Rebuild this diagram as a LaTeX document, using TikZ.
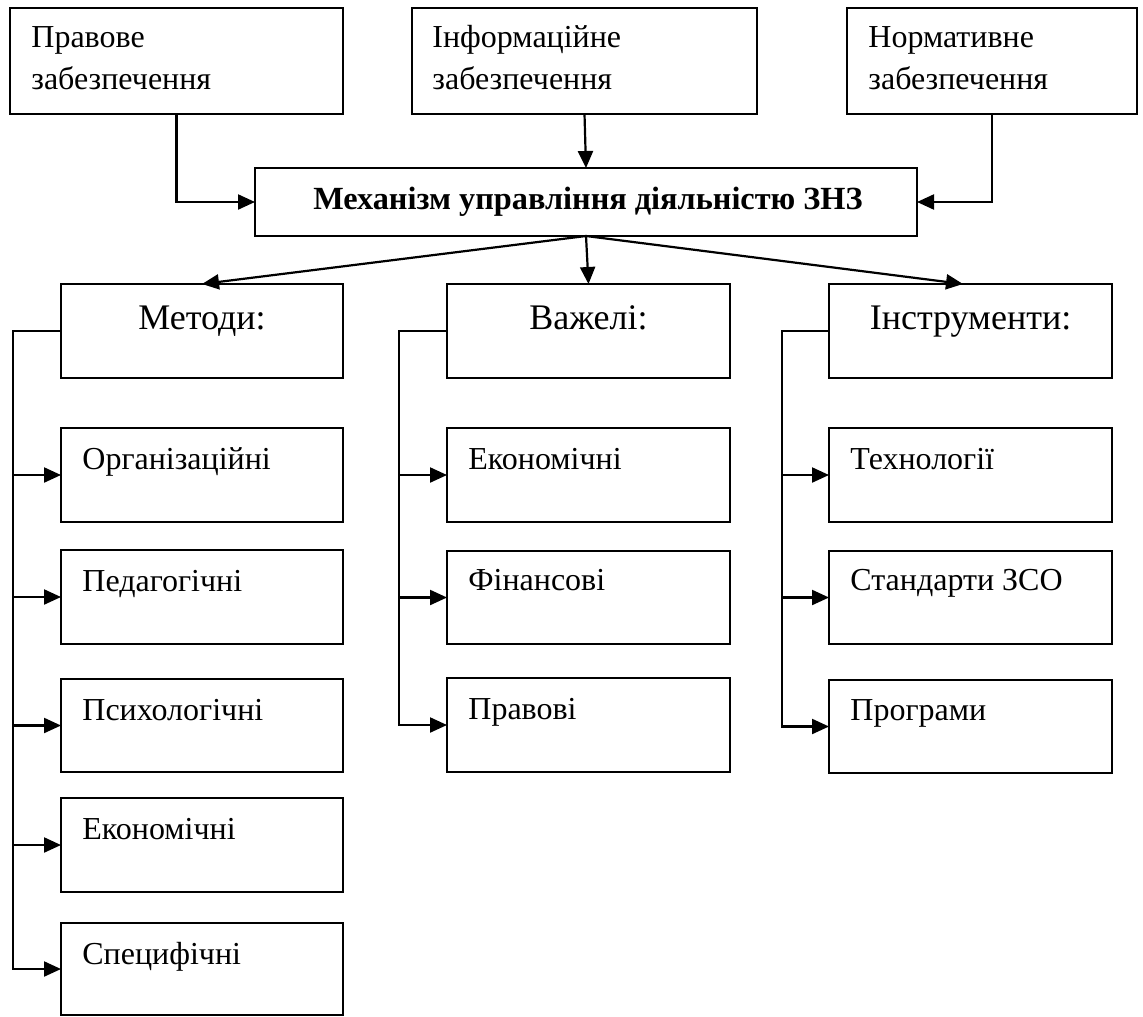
\documentclass[tikz,border=0pt]{standalone}
\usepackage{fontspec}
\setmainfont{Liberation Serif}
\usetikzlibrary{arrows.meta}
\tikzset{
  box/.style={draw, line width=1.05pt, inner sep=0pt, outer sep=0pt, anchor=north west},
  txt/.style={inner sep=0pt, anchor=base west, font=\fontsize{16}{19}\selectfont},
  head/.style={inner sep=0pt, anchor=base, font=\fontsize{18}{21}\selectfont},
  ttl/.style={inner sep=0pt, anchor=base, font=\fontsize{16.15}{19}\selectfont\bfseries},
  arr/.style={line width=1.1pt, -{Triangle[length=8.5pt,width=7.5pt]}},
  ln/.style={line width=1.1pt}
}
\begin{document}
\begin{tikzpicture}[x=0.5pt,y=-0.5pt]
\useasboundingbox (0,0) rectangle (1143,1016);
% top boxes
\node[box, minimum width=166.5pt, minimum height=53pt] (pravove) at (10,8) {};
\node[txt] (pravove1) at (31,48) {Правове};
\node[txt] (pravove2) at (31,90) {забезпечення};
\node[box, minimum width=172.5pt, minimum height=53pt] (inform) at (412,8) {};
\node[txt] (inform1) at (432,48) {Інформаційне};
\node[txt] (inform2) at (432,90) {забезпечення};
\node[box, minimum width=145pt, minimum height=53pt] (normat) at (847,8) {};
\node[txt] (normat1) at (868,48) {Нормативне};
\node[txt] (normat2) at (868,90) {забезпечення};
% central
\node[box, minimum width=331pt, minimum height=34pt] (central) at (255,168) {};
\node[ttl] (centralt) at (588,209) {Механізм управління діяльністю ЗНЗ};
% headers
\node[box, minimum width=141pt, minimum height=47pt] (metody) at (61,284) {};
\node[head] (metodyt) at (202,329) {Методи:};
\node[box, minimum width=141.5pt, minimum height=47pt] (vazheli) at (447,284) {};
\node[head] (vazhelit) at (588.5,329) {Важелі:};
\node[box, minimum width=141.5pt, minimum height=47pt] (instr) at (829,284) {};
\node[head] (instrt) at (970.5,329) {Інструменти:};
% left column
\node[box, minimum width=141pt, minimum height=47pt] (m1) at (61,428) {};
\node[txt] (m1t) at (82,469) {Організаційні};
\node[box, minimum width=141pt, minimum height=47pt] (m2) at (61,550) {};
\node[txt] (m2t) at (82,591) {Педагогічні};
\node[box, minimum width=141pt, minimum height=46.5pt] (m3) at (61,679) {};
\node[txt] (m3t) at (82,720) {Психологічні};
\node[box, minimum width=141pt, minimum height=47pt] (m4) at (61,798) {};
\node[txt] (m4t) at (82,839) {Економічні};
\node[box, minimum width=141pt, minimum height=46pt] (m5) at (61,923) {};
\node[txt] (m5t) at (82,964) {Специфічні};
% middle column
\node[box, minimum width=141.5pt, minimum height=47pt] (v1) at (447,428) {};
\node[txt] (v1t) at (468,469) {Економічні};
\node[box, minimum width=141.5pt, minimum height=46.5pt] (v2) at (447,551) {};
\node[txt] (v2t) at (468,590) {Фінансові};
\node[box, minimum width=141.5pt, minimum height=47pt] (v3) at (447,678) {};
\node[txt] (v3t) at (468,719) {Правові};
% right column
\node[box, minimum width=141.5pt, minimum height=47pt] (i1) at (829,428) {};
\node[txt] (i1t) at (850,469) {Технології};
\node[box, minimum width=141.5pt, minimum height=46.5pt] (i2) at (829,551) {};
\node[txt] (i2t) at (850,590) {Стандарти ЗСО};
\node[box, minimum width=141.5pt, minimum height=46.5pt] (i3) at (829,680) {};
\node[txt] (i3t) at (850,720) {Програми};
% connectors top
\draw[arr] (pravove.south) |- (central.west);
\draw[arr] (inform.south) -- (central.north);
\draw[arr] (normat.south) |- (central.east);
\draw[arr] (central.south) -- (metody.north);
\draw[arr] (central.south) -- (vazheli.north);
\draw[arr] (central.south) -- ([xshift=-3.75pt]instr.north);
% brackets
\coordinate (mb) at (13,331);
\coordinate (vb) at (399,331);
\coordinate (ib) at (782,331);
\draw[arr] (metody.west) -- (mb) |- (m5.west);
\foreach \n in {m1,m2,m3,m4} \draw[arr] (mb |- \n.west) -- (\n.west);
\draw[arr] (vazheli.west) -- (vb) |- (v3.west);
\foreach \n in {v1,v2} \draw[arr] (vb |- \n.west) -- (\n.west);
\draw[arr] (instr.west) -- (ib) |- (i3.west);
\foreach \n in {i1,i2} \draw[arr] (ib |- \n.west) -- (\n.west);
\end{tikzpicture}
\end{document}
